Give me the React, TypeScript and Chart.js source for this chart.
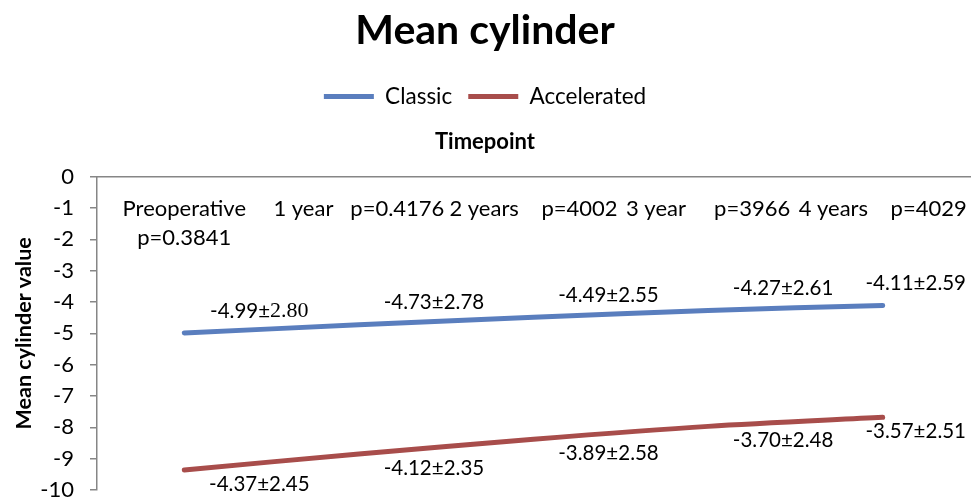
import React, { useEffect, useRef } from "react";
import { Chart, registerables } from "chart.js";

Chart.register(...registerables);

const categories: (string | string[])[] = [
  ["Preoperative", "p=0.3841"],
  "1 year   p=0.4176",
  "2 years    p=4002",
  "3 year     p=3966",
  "4 years    p=4029",
];
const classicMean = [-4.99, -4.73, -4.49, -4.27, -4.11];
const classicSD = [2.8, 2.78, 2.55, 2.61, 2.59];
const acceleratedMean = [-4.37, -4.12, -3.89, -3.7, -3.57];
const acceleratedSD = [2.45, 2.35, 2.58, 2.48, 2.51];
const yMin = -10;
const yMax = 0;
const yStep = 1;

const FONT = "Lato, 'Open Sans', sans-serif";
const BLUE = "#5A7EBE";
const RED = "#A84D4B";
const AXIS = "#868686";

const labelPlugin = {
  id: "meanSdLabels",
  afterDatasetsDraw(chart: any) {
    const ctx = chart.ctx as CanvasRenderingContext2D;
    const means = [classicMean, acceleratedMean];
    const sds = [classicSD, acceleratedSD];
    const dyByDataset = [-22, 14];
    ctx.save();
    ctx.fillStyle = "#000";
    ctx.textBaseline = "middle";
    ctx.textAlign = "left";
    chart.data.datasets.forEach((_ds: any, di: number) => {
      const meta = chart.getDatasetMeta(di);
      meta.data.forEach((pt: any, i: number) => {
        const a = means[di][i].toFixed(2) + "±";
        const b = sds[di][i].toFixed(2);
        const sansFont = `20.5px ${FONT}`;
        const serifFont = `22px 'Liberation Serif', 'DejaVu Serif', serif`;
        const useSerif = di === 0 && i === 0;
        ctx.font = sansFont;
        const wa = ctx.measureText(a).width;
        ctx.font = useSerif ? serifFont : sansFont;
        const wb = ctx.measureText(b).width;
        const total = wa + wb;
        let left = pt.x + 75 - total / 2;
        const maxRight = chart.width - 8;
        if (left + total > maxRight) left = maxRight - total;
        const y = pt.y + dyByDataset[di];
        ctx.font = sansFont;
        ctx.fillText(a, left, y);
        ctx.font = useSerif ? serifFont : sansFont;
        ctx.fillText(b, left + wa, y);
      });
    });
    ctx.restore();
  },
};

export default function App() {
  const ref = useRef<HTMLCanvasElement | null>(null);
  useEffect(() => {
    document.body.style.margin = "0";
    const canvas = ref.current;
    if (!canvas) return;
    const chart = new Chart(canvas, {
      type: "line",
      data: {
        labels: categories,
        datasets: [
          {
            label: "Classic",
            data: classicMean,
            borderColor: BLUE,
            backgroundColor: BLUE,
            borderWidth: 5,
            borderCapStyle: "round",
            pointRadius: 0,
            pointHoverRadius: 0,
            tension: 0.3,
            fill: false,
          },
          {
            label: "Accelerated",
            data: acceleratedMean,
            borderColor: RED,
            backgroundColor: RED,
            borderWidth: 5,
            borderCapStyle: "round",
            pointRadius: 0,
            pointHoverRadius: 0,
            tension: 0.3,
            fill: false,
          },
        ],
      },
      options: {
        animation: false,
        responsive: false,
        maintainAspectRatio: false,
        layout: { padding: { top: 0, left: 0, right: 4, bottom: 0 } },
        plugins: {
          tooltip: { enabled: false },
          title: {
            display: true,
            text: "Mean cylinder",
            color: "#000",
            font: { family: FONT, size: 41, weight: "bold" },
            padding: { top: 6, bottom: 14 },
          },
          legend: {
            display: true,
            position: "top",
            labels: {
              color: "#000",
              font: { family: FONT, size: 22.5 },
              usePointStyle: true,
              pointStyle: "line",
              pointStyleWidth: 50,
              padding: 16,
            },
          },
          subtitle: {
            display: true,
            text: "Timepoint",
            color: "#000",
            weight: 500,
            font: { family: FONT, size: 22, weight: "bold" },
            padding: { top: 11.5, bottom: 21 },
          } as any,
        },
        scales: {
          x: {
            type: "category",
            position: { y: 0 } as any,
            offset: true,
            grid: { display: false, drawTicks: false },
            border: { display: true, color: AXIS, width: 1.5 },
            ticks: {
              autoSkip: false,
              maxRotation: 0,
              minRotation: 0,
              padding: 18.5,
              color: "#000",
              font: { family: FONT, size: 22, lineHeight: 1.3 },
            },
            afterFit: (scale: any) => {
              scale.paddingLeft = 0;
              scale.paddingRight = 0;
            },
          },
          y: {
            stacked: true,
            min: yMin,
            max: yMax,
            ticks: {
              stepSize: yStep,
              padding: 16,
              color: "#000",
              font: { family: FONT, size: 22 },
            },
            grid: {
              display: true,
              drawOnChartArea: false,
              drawTicks: true,
              tickLength: 7,
              color: AXIS,
              lineWidth: 1.5,
            },
            border: { display: true, color: AXIS, width: 1.5 },
            title: {
              display: true,
              text: "Mean cylinder value",
              color: "#000",
              font: { family: FONT, size: 21.5, weight: "bold" },
              padding: { top: 11, bottom: 8 },
            },
            afterFit: (scale: any) => {
              scale.width = 97;
              scale.paddingBottom = 10;
            },
          },
        },
      },
      plugins: [labelPlugin],
    } as any);
    return () => chart.destroy();
  }, []);
  return (
    <div style={{ width: 974, height: 500 }}>
      <canvas ref={ref} width={974} height={500} style={{ display: "block" }} />
    </div>
  );
}
